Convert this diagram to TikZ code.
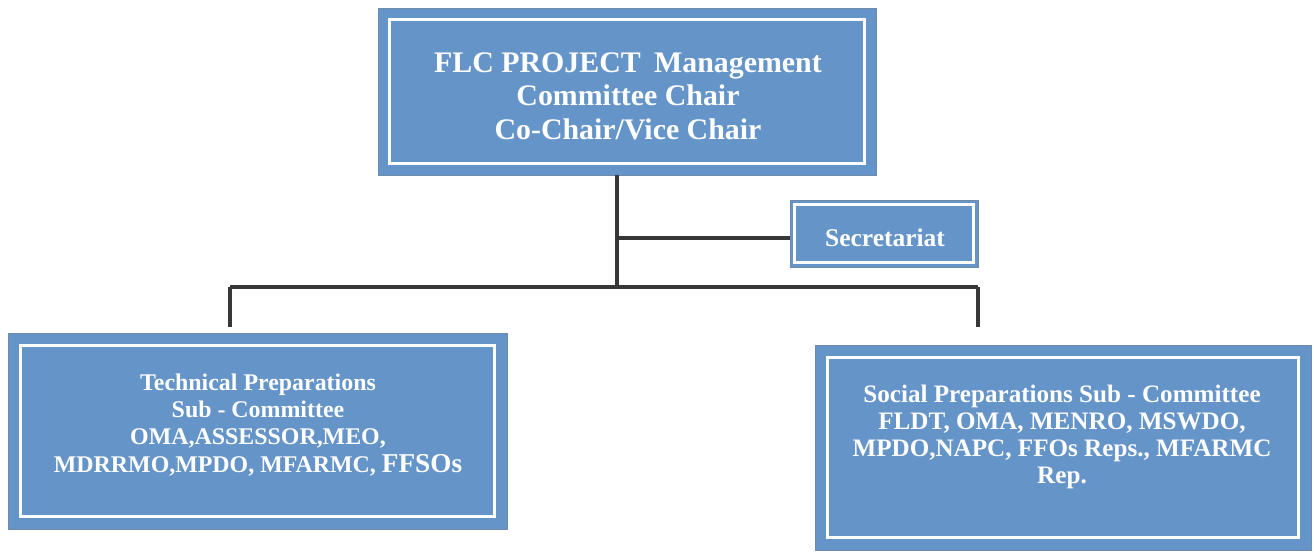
\documentclass[tikz,border=0pt]{standalone}
\usepackage{fontspec}
\setmainfont{Liberation Serif}
\usetikzlibrary{positioning}

\definecolor{boxblue}{RGB}{100,148,200}
\definecolor{boxedge}{RGB}{112,138,170}
\definecolor{linegray}{RGB}{55,55,55}

\tikzset{
  unit/.style={fill=boxblue, draw=boxedge, line width=0.5pt, inner sep=0pt},
  unittext/.style={align=center, text=white, font=\bfseries, inner sep=0pt},
  inframe/.style={draw=white, line width=1.8pt},
  link/.style={draw=linegray, line width=1.8pt},
}

\begin{document}
\begin{tikzpicture}[x=0.02cm, y=-0.02cm]
  \useasboundingbox (0,0) rectangle (1314,551);

  %%% BOXES
  \node[unit, minimum width=9.96cm, minimum height=3.34cm] (chair) at (627,91.5) {};
  \node[unit, minimum width=3.76cm, minimum height=1.34cm] (secr) at (884,233.5) {};
  \node[unit, minimum width=9.98cm, minimum height=3.92cm] (tech) at (257.5,431) {};
  \node[unit, minimum width=9.92cm, minimum height=4.10cm] (social) at (1063,447.5) {};

  \foreach \n/\d in {chair/7pt, secr/3pt, tech/7.5pt, social/7.5pt}
    \draw[inframe] ([xshift=\d,yshift=-\d]\n.north west) rectangle ([xshift=-\d,yshift=\d]\n.south east);

  %%% TEXTS
  \node[unittext, font=\bfseries\fontsize{17}{19}\selectfont] (chairtxt) at (628,96)
    {FLC PROJECT\hspace{0.45em}Management\\Committee Chair\\Co-Chair/Vice Chair};
  \node[unittext, font=\bfseries\fontsize{14.5}{15}\selectfont] (secrtxt) at (885,238) {Secretariat};
  \node[unittext, font=\bfseries\fontsize{13.6}{15.4}\selectfont] (techtxt) at (258,425)
    {Technical Preparations\\Sub - Committee\\OMA,ASSESSOR,MEO,\\MDRRMO,MPDO, MFARMC, {\fontsize{15.5}{15.5}\selectfont FFSOs}};
  \node[unittext, font=\bfseries\fontsize{14.3}{15.4}\selectfont] (socialtxt) at (1062,437)
    {Social Preparations Sub - Committee\\FLDT, OMA, MENRO, MSWDO,\\MPDO,NAPC, FFOs Reps., MFARMC\\Rep.};

  %%% LINKS
  \coordinate (hub) at (617,287);
  \coordinate (sechub) at (617,238);
  \coordinate (lt) at (230,287);
  \coordinate (rt) at (978,287);
  \coordinate (ltend) at (230,327);
  \coordinate (rtend) at (978,327);

  \draw[link] (chair.south -| hub) -- (hub);
  \draw[link] (sechub) -- (sechub -| secr.west);
  \draw[link] (lt) -- (rt);
  \draw[link] (lt) -- (ltend);
  \draw[link] (rt) -- (rtend);
\end{tikzpicture}
\end{document}
